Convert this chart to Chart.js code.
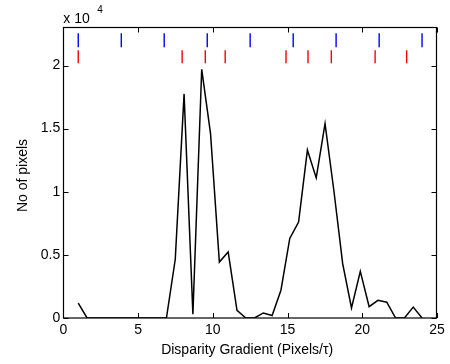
<!DOCTYPE html>
<html>
<head>
<meta charset="UTF-8">
<title>Disparity Gradient</title>
<script src="https://cdn.jsdelivr.net/npm/chart.js"></script>
<style>
  html, body { margin: 0; padding: 0; background: #fff; }
  #chart { display: block; }
</style>
</head>
<body>
<canvas id="chart" width="450" height="364"></canvas>
<script>
// histogram of disparity gradient
const xValues = [1.00, 1.59, 2.18, 2.77, 3.36, 3.95, 4.54, 5.13, 5.72, 6.31,
                 6.90, 7.49, 8.08, 8.67, 9.26, 9.85, 10.44, 11.03, 11.62, 12.21,
                 12.79, 13.38, 13.97, 14.56, 15.15, 15.74, 16.33, 16.92, 17.51, 18.10,
                 18.69, 19.28, 19.87, 20.46, 21.05, 21.64, 22.23, 22.82, 23.41, 24.00];
const pixelCounts = [1180, 0, 0, 0, 0, 0, 0, 0, 0, 0,
                     0, 4650, 17750, 300, 19700, 14600, 4430, 5230, 600, 0,
                     0, 400, 200, 2200, 6300, 7600, 13300, 11100, 15400, 10100,
                     4300, 800, 3700, 900, 1400, 1250, 0, 0, 860, 0];

// marker rows at the top
const blueMarks = [1, 3.88, 6.75, 9.63, 12.5, 15.38, 18.25, 21.13, 24];
const redMarks = [1, 7.95, 9.5, 10.83, 14.9, 16.37, 17.93, 20.86, 22.97];
const blueRowY = 22000;
const redRowY = 20690;

const xTicks = [0, 5, 10, 15, 20, 25];
const yTicks = [0, 5000, 10000, 15000, 20000];

const FONT = '"Liberation Sans", Arial, sans-serif';
Chart.defaults.font.family = FONT;
Chart.defaults.font.size = 14;
Chart.defaults.color = '#000';

// matlab style box, inward ticks, labels
const axesBox = {
  id: 'axesBox',
  afterDraw(chart) {
    const ctx = chart.ctx;
    const a = chart.chartArea;
    const xs = chart.scales.x, ys = chart.scales.y;
    const L = Math.round(a.left) + 0.5, R = Math.round(a.right) - 0.5;
    const T = Math.round(a.top) + 0.5, B = ys.getPixelForValue(0);
    ctx.save();
    ctx.strokeStyle = '#000';
    ctx.lineWidth = 1.2;
    ctx.strokeRect(L, T, R - L, B - T);
    ctx.lineWidth = 1;
    ctx.beginPath();
    xTicks.forEach(v => {
      const px = Math.round(xs.getPixelForValue(v)) + 0.5;
      ctx.moveTo(px, B); ctx.lineTo(px, B - 5);
      ctx.moveTo(px, T); ctx.lineTo(px, T + 5);
    });
    yTicks.forEach(v => {
      const py = Math.round(ys.getPixelForValue(v)) + 0.5;
      ctx.moveTo(L, py); ctx.lineTo(L + 5, py);
      ctx.moveTo(R, py); ctx.lineTo(R - 5, py);
    });
    ctx.stroke();

    ctx.fillStyle = '#000';
    ctx.font = '14px ' + FONT;
    ctx.textBaseline = 'alphabetic';
    ctx.textAlign = 'left';
    ctx.fillText('x 10', a.left, 23);
    ctx.font = '10px ' + FONT;
    ctx.fillText('4', a.left + 34, 13);

    ctx.font = '14px ' + FONT;
    ctx.textAlign = 'center';
    ctx.textBaseline = 'middle';
    ctx.fillText('Disparity Gradient (Pixels/\u03C4)', (a.left + a.right) / 2 - 3, 350);
    ctx.translate(23, (a.top + a.bottom) / 2 + 3);
    ctx.rotate(-Math.PI / 2);
    ctx.fillText('No of pixels', 0, 0);
    ctx.restore();
  }
};

new Chart(document.getElementById('chart'), {
  type: 'line',
  data: {
    datasets: [
      {
        data: xValues.map((x, i) => ({ x: x, y: pixelCounts[i] })),
        borderColor: '#000',
        borderWidth: 1.5,
        pointRadius: 0,
        tension: 0,
        fill: false
      },
      {
        type: 'scatter',
        data: blueMarks.map(x => ({ x: x, y: blueRowY })),
        pointStyle: 'line',
        rotation: 90,
        radius: 7,
        borderColor: '#0000ff',
        borderWidth: 1.4
      },
      {
        type: 'scatter',
        data: redMarks.map(x => ({ x: x, y: redRowY })),
        pointStyle: 'line',
        rotation: 90,
        radius: 6.5,
        borderColor: '#ff0000',
        borderWidth: 1.4
      }
    ]
  },
  options: {
    responsive: false,
    animation: false,
    layout: { padding: { left: 0, right: 13, top: 27, bottom: 0 } },
    plugins: { legend: { display: false }, tooltip: { enabled: false } },
    scales: {
      x: {
        type: 'linear',
        min: 0,
        max: 25,
        grid: { display: false, drawTicks: false },
        border: { display: false },
        ticks: { padding: 4, maxRotation: 0 },
        afterBuildTicks(scale) { scale.ticks = xTicks.map(v => ({ value: v })); },
        afterFit(scale) { scale.height = 46; }
      },
      y: {
        min: 0,
        max: 23050,
        grid: { display: false, drawTicks: false },
        border: { display: false },
        ticks: {
          padding: 3,
          callback: v => String(v / 10000)
        },
        afterBuildTicks(scale) { scale.ticks = yTicks.map(v => ({ value: v })); },
        afterFit(scale) { scale.width = 63.3; }
      }
    }
  },
  plugins: [axesBox]
});
</script>
</body>
</html>
